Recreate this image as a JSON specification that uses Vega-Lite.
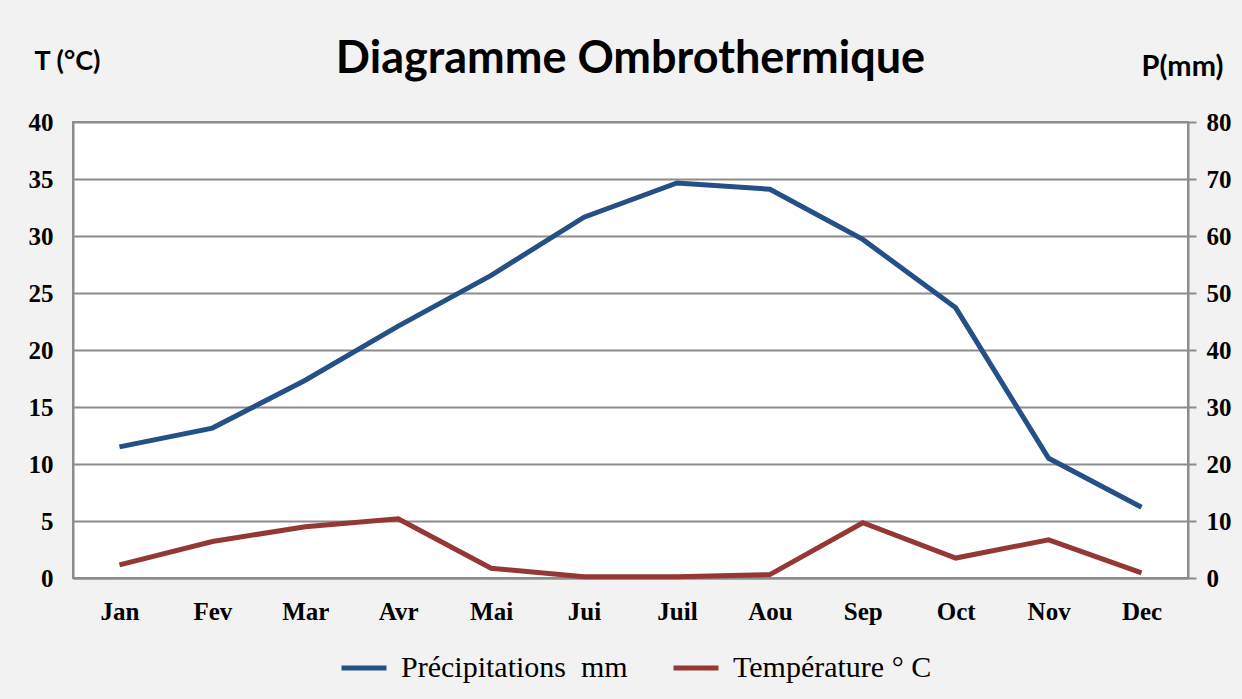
{
  "$schema": "https://vega.github.io/schema/vega-lite/v6.json",
  "width": 1115,
  "height": 456,
  "autosize": {"type": "none"},
  "padding": {"left": 73, "top": 122, "right": 54, "bottom": 121},
  "background": "#f2f2f2",
  "title": {
    "text": "Diagramme Ombrothermique",
    "font": "Lato",
    "fontSize": 45,
    "fontWeight": "bold",
    "color": "#000000",
    "anchor": "middle",
    "offset": 0,
    "dy": 35
  },
  "data": {
    "values": [
      {"mois": "Jan", "serie": "Température ° C", "valeur": 1.15},
      {"mois": "Fev", "serie": "Température ° C", "valeur": 3.2},
      {"mois": "Mar", "serie": "Température ° C", "valeur": 4.5},
      {"mois": "Avr", "serie": "Température ° C", "valeur": 5.2},
      {"mois": "Mai", "serie": "Température ° C", "valeur": 0.85},
      {"mois": "Jui", "serie": "Température ° C", "valeur": 0.1},
      {"mois": "Juil", "serie": "Température ° C", "valeur": 0.1},
      {"mois": "Aou", "serie": "Température ° C", "valeur": 0.3},
      {"mois": "Sep", "serie": "Température ° C", "valeur": 4.85},
      {"mois": "Oct", "serie": "Température ° C", "valeur": 1.75},
      {"mois": "Nov", "serie": "Température ° C", "valeur": 3.35},
      {"mois": "Dec", "serie": "Température ° C", "valeur": 0.45},
      {"mois": "Jan", "serie": "Précipitations\u00a0 mm", "valeur": 23.0},
      {"mois": "Fev", "serie": "Précipitations\u00a0 mm", "valeur": 26.3},
      {"mois": "Mar", "serie": "Précipitations\u00a0 mm", "valeur": 34.7},
      {"mois": "Avr", "serie": "Précipitations\u00a0 mm", "valeur": 44.2},
      {"mois": "Mai", "serie": "Précipitations\u00a0 mm", "valeur": 53.1},
      {"mois": "Jui", "serie": "Précipitations\u00a0 mm", "valeur": 63.3},
      {"mois": "Juil", "serie": "Précipitations\u00a0 mm", "valeur": 69.3},
      {"mois": "Aou", "serie": "Précipitations\u00a0 mm", "valeur": 68.2},
      {"mois": "Sep", "serie": "Précipitations\u00a0 mm", "valeur": 59.4},
      {"mois": "Oct", "serie": "Précipitations\u00a0 mm", "valeur": 47.4},
      {"mois": "Nov", "serie": "Précipitations\u00a0 mm", "valeur": 21.0},
      {"mois": "Dec", "serie": "Précipitations\u00a0 mm", "valeur": 12.4}
    ]
  },
  "encoding": {
    "x": {
      "field": "mois",
      "type": "ordinal",
      "sort": ["Jan", "Fev", "Mar", "Avr", "Mai", "Jui", "Juil", "Aou", "Sep", "Oct", "Nov", "Dec"],
      "scale": {"type": "point", "padding": 0.5},
      "axis": {
        "title": null,
        "labelAngle": 0,
        "labelFont": "Liberation Serif",
        "labelFontWeight": "bold",
        "labelFontSize": 25,
        "labelColor": "#000000",
        "labelPadding": 21,
        "ticks": false,
        "domainColor": "#8c8c8c",
        "domainWidth": 2,
        "grid": false
      }
    },
    "color": {
      "field": "serie",
      "type": "nominal",
      "scale": {
        "domain": ["Précipitations\u00a0 mm", "Température ° C"],
        "range": ["#245086", "#953735"]
      },
      "legend": {
        "title": null,
        "orient": "none",
        "direction": "horizontal",
        "legendX": 266,
        "legendY": 521,
        "symbolType": "stroke",
        "symbolSize": 2025,
        "symbolStrokeWidth": 5,
        "labelFont": "Liberation Serif",
        "labelFontSize": 30,
        "labelLimit": 0,
        "labelColor": "#000000",
        "labelOffset": 12,
        "columnPadding": 35
      }
    }
  },
  "layer": [
    {
      "transform": [{"filter": "datum.serie === 'Température ° C'"}],
      "mark": {"type": "line", "strokeWidth": 5},
      "encoding": {
        "y": {
          "field": "valeur",
          "type": "quantitative",
          "scale": {"domain": [0, 40]},
          "axis": {
            "orient": "left",
            "values": [0, 5, 10, 15, 20, 25, 30, 35, 40],
            "title": "T (°C)",
            "titleAngle": 0,
            "titleAlign": "center",
            "titleBaseline": "middle",
            "titleX": -6,
            "titleY": -61,
            "titleFont": "Lato",
            "titleFontSize": 27,
            "titleFontWeight": "bold",
            "titleColor": "#000000",
            "labelFont": "Liberation Serif",
            "labelFontWeight": "bold",
            "labelFontSize": 25,
            "labelColor": "#000000",
            "labelPadding": 20,
            "ticks": false,
            "domainColor": "#8c8c8c",
            "domainWidth": 2,
            "grid": true,
            "gridColor": "#8c8c8c",
            "gridWidth": 2
          }
        }
      }
    },
    {
      "transform": [{"filter": "datum.serie !== 'Température ° C'"}],
      "mark": {"type": "line", "strokeWidth": 5},
      "encoding": {
        "y": {
          "field": "valeur",
          "type": "quantitative",
          "scale": {"domain": [0, 80]},
          "axis": {
            "orient": "right",
            "values": [0, 10, 20, 30, 40, 50, 60, 70, 80],
            "title": "P(mm)",
            "titleAngle": 0,
            "titleAlign": "center",
            "titleBaseline": "middle",
            "titleX": -6,
            "titleY": -56,
            "titleFont": "Lato",
            "titleFontSize": 29,
            "titleFontWeight": "bold",
            "titleColor": "#000000",
            "labelFont": "Liberation Serif",
            "labelFontWeight": "bold",
            "labelFontSize": 25,
            "labelColor": "#000000",
            "labelPadding": 10,
            "ticks": true,
            "tickSize": 8,
            "tickColor": "#8c8c8c",
            "tickWidth": 2,
            "domainColor": "#8c8c8c",
            "domainWidth": 2,
            "grid": false
          }
        }
      }
    }
  ],
  "resolve": {"scale": {"y": "independent"}},
  "config": {
    "view": {"fill": "#ffffff", "stroke": "#8c8c8c", "strokeWidth": 2}
  }
}
